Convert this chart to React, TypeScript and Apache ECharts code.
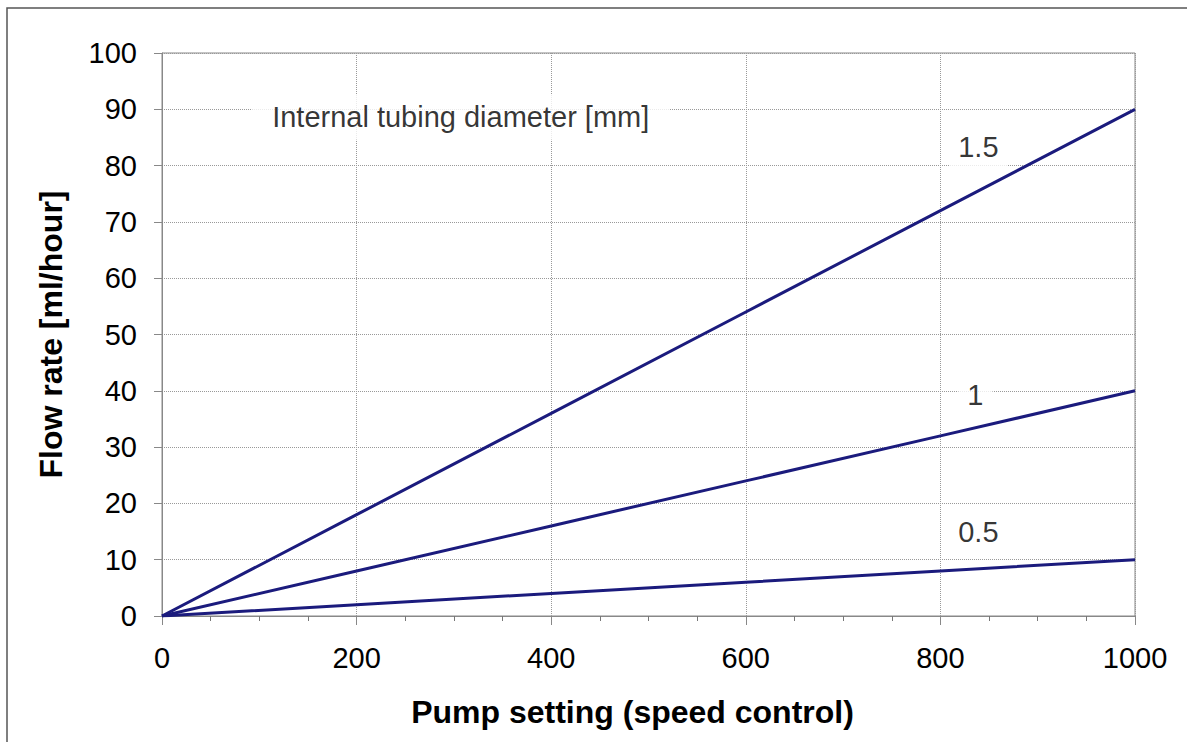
import React, { useEffect, useRef } from "react";
import * as echarts from "echarts";

const pumpSettings = [0, 200, 400, 600, 800, 1000];
const flow15 = [0, 18, 36, 54, 72, 90];
const flow10 = [0, 8, 16, 24, 32, 40];
const flow05 = [0, 2, 4, 6, 8, 10];
const seriesNames = ["1.5", "1", "0.5"];
const labelPoints: [number, number, string][] = [
  [839, 83.3, "1.5"],
  [836, 39.2, "1"],
  [839, 14.9, "0.5"],
];
const legendTitlePoint: [number, number, string] = [307, 88.6, "Internal tubing diameter [mm]"];
const xTitle = "Pump setting (speed control)";
const yTitle = "Flow rate [ml/hour]";

const FONT = "'Liberation Sans', Arial, sans-serif";
const LINE_COLOR = "#1b1b7d";

export default function App() {
  const ref = useRef<HTMLDivElement>(null);
  useEffect(() => {
    if (!ref.current) return;
    const chart = echarts.init(ref.current, undefined, { renderer: "svg" });
    const mk = (vals: number[]) => pumpSettings.map((x, i) => [x, vals[i]]);
    const lineSeries = [flow15, flow10, flow05].map((vals, i) => ({
      name: seriesNames[i],
      type: "line",
      data: mk(vals),
      showSymbol: false,
      symbol: "none",
      lineStyle: { color: LINE_COLOR, width: 3 },
      z: 5,
    }));
    chart.setOption({
      animation: false,
      textStyle: { fontFamily: FONT },
      graphic: [
        {
          type: "rect",
          shape: { x: 7, y: 8, width: 1300, height: 900 },
          style: { fill: "none", stroke: "#555", lineWidth: 1.5 },
          silent: true,
        },
      ],
      grid: {
        left: 162,
        right: 52,
        top: 53,
        bottom: 126,
        show: true,
        borderColor: "#888",
        borderWidth: 1,
        backgroundColor: "transparent",
        outerBoundsMode: "none",
        containLabel: false,
      },
      xAxis: {
        type: "value",
        min: 0,
        max: 1000,
        interval: 200,
        name: xTitle,
        nameLocation: "middle",
        nameGap: 80,
        nameTextStyle: {
          fontSize: 32,
          fontWeight: "bold",
          color: "#000",
          fontFamily: FONT,
          padding: [0, 32, 0, 0],
        },
        axisLine: { show: true, lineStyle: { color: "#888", width: 1 } },
        axisTick: { show: true, inside: false, length: 9, lineStyle: { color: "#888" } },
        minorTick: { show: true, splitNumber: 4, length: 5, lineStyle: { color: "#777" } },
        axisLabel: {
          fontSize: 29,
          color: "#000",
          margin: 27,
          fontFamily: FONT,
          formatter: (v: number) => String(v),
        },
        splitLine: { show: true, lineStyle: { color: "#999", type: "dotted", width: 1 } },
      },
      yAxis: {
        type: "value",
        min: 0,
        max: 100,
        interval: 10,
        name: yTitle,
        nameLocation: "middle",
        nameGap: 95,
        nameRotate: 90,
        nameTextStyle: { fontSize: 32, fontWeight: "bold", color: "#000", fontFamily: FONT },
        axisLine: { show: true, lineStyle: { color: "#888", width: 1 } },
        axisTick: { show: true, inside: false, length: 8, lineStyle: { color: "#888" } },
        axisLabel: {
          fontSize: 29,
          color: "#000",
          margin: 25,
          fontFamily: FONT,
          formatter: (v: number) => String(v),
        },
        splitLine: { show: true, lineStyle: { color: "#999", type: "dotted", width: 1 } },
      },
      series: [
        ...lineSeries,
        {
          type: "scatter",
          symbolSize: 1,
          itemStyle: { color: "transparent" },
          z: 3,
          silent: true,
          data: labelPoints.map(([x, y, t]) => ({ value: [x, y], name: t })),
          label: {
            show: true,
            position: "inside",
            formatter: (p: any) => p.name,
            fontSize: 29,
            color: "#000",
            fontFamily: FONT,
            backgroundColor: "#fff",
            padding: [5, 9],
          },
        },
        {
          type: "scatter",
          symbolSize: 1,
          itemStyle: { color: "transparent" },
          z: 3,
          silent: true,
          data: [{ value: [legendTitlePoint[0], legendTitlePoint[1]], name: legendTitlePoint[2] }],
          label: {
            show: true,
            position: "inside",
            formatter: (p: any) => p.name,
            fontSize: 29,
            color: "#000",
            fontFamily: FONT,
            backgroundColor: "#fff",
            padding: [8, 20],
          },
        },
      ],
    });
    return () => chart.dispose();
  }, []);
  return (
    <div
      ref={ref}
      style={{ position: "absolute", left: 0, top: 0, width: 1187, height: 742, background: "#fff" }}
    />
  );
}
